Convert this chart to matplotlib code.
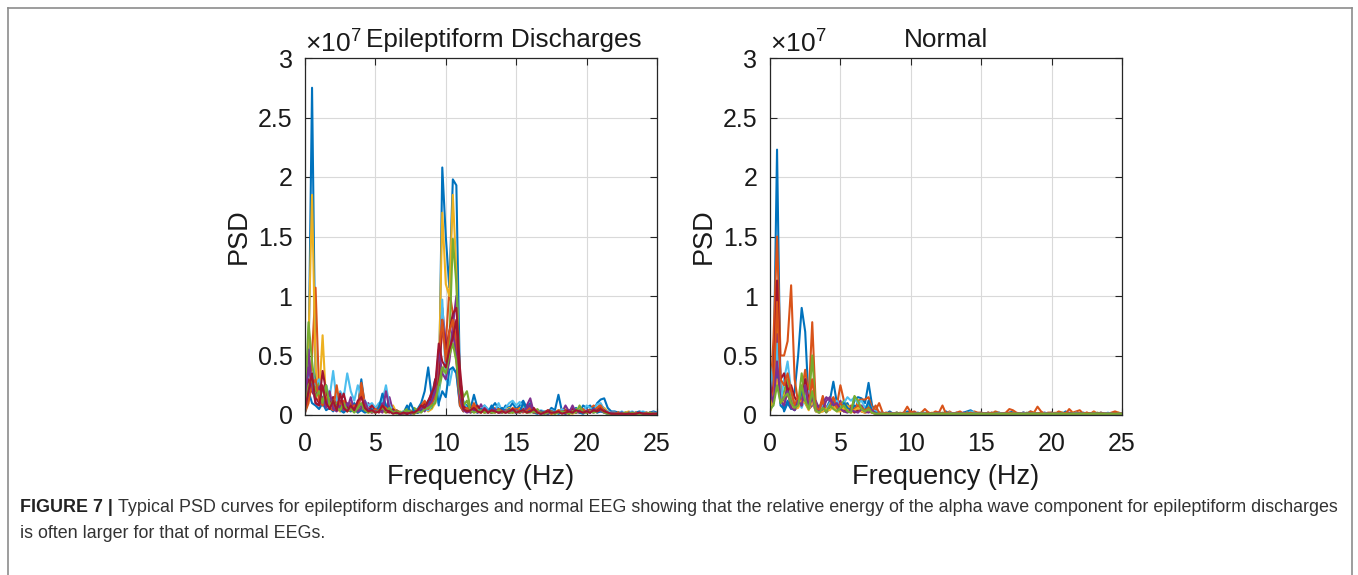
import numpy as np
import matplotlib
matplotlib.use('Agg')
import matplotlib.pyplot as plt
from matplotlib.lines import Line2D

plt.rcParams['font.family'] = ['Liberation Sans', 'DejaVu Sans']
plt.rcParams['mathtext.fontset'] = 'custom'
plt.rcParams['mathtext.rm'] = 'Liberation Sans'

# frequency bins (Hz), 0.25 Hz resolution
freq = np.arange(101) * 0.25

# PSD values, in units of 1e5 (one group of 4 bins per Hz)
ep_blue = "5 40 275 30|20 12 25 8|10 6 12 5|8 4 10 6|30 8 5 3|6 4 15 5|3 2 4 2|2 8 3 2|5 10 20 40|15 30 8 208|150 107 198 193|30 10 8 5|17 6 4 8|4 6 10 5|3 8 6 10|5 8 12 6|10 4 3 2|3 2 6 4|17 3 2 4|3 6 2 8|6 8 4 10|13 14 6 3|3 2 2 1|2 1 2 3|2 1 2 3|2"
ep_orange = "2 10 50 107|20 10 8 15|5 12 3 8|4 10 3 5|27 10 5 3|4 8 6 3|5 3 2 2|2 3 2 4|3 6 10 8|12 20 40 70|60 105 85 60|10 4 6 3|8 4 3 6|3 4 6 3|2 5 3 6|4 6 3 5|8 3 2 3|2 4 3 2|3 5 2 3|4 2 6 4|3 5 8 6|9 5 3 2|2 1 2 1|1 2 1 1|1 2 1 1|1"
ep_yellow = "3 60 185 40|15 67 10 6|8 5 3 6|4 3 5 2|6 3 2 4|3 5 3 2|3 8 2 3|2 1 3 2|2 4 6 3|5 10 30 170|110 100 185 120|15 4 3 5|2 6 3 2|4 2 3 5|2 3 6 2|3 5 8 4|3 2 4 2|3 2 1 3|2 3 5 2|1 3 2 4|3 2 5 3|4 6 3 2|1 2 1 2|3 1 2 1|2 1 1 2|1"
ep_purple = "10 55 20 15|25 8 12 5|15 6 4 12|5 15 3 6|8 3 10 4|3 6 10 4|15 3 2 1|2 1 3 2|4 8 3 10|20 12 40 90|60 50 75 100|20 5 3 8|4 3 9 3|2 5 3 2|3 2 4 3|2 4 3 8|14 2 3 2|1 3 2 2|3 2 8 3|6 2 3 2|4 3 2 5|3 4 2 1|2 1 1 2|1 1 2 1|1 1 1 2|1"
ep_green = "8 78 45 20|28 22 10 15|8 10 5 3|6 4 8 3|5 8 4 3|2 3 5 2|3 2 1 2|3 5 2 6|4 3 8 5|6 15 20 35|45 60 148 110|30 15 20 6|3 5 2 4|3 2 4 2|5 3 2 3|2 4 3 2|3 2 5 2|2 3 2 1|4 2 3 2|2 5 3 2|3 2 4 2|7 3 2 1|1 2 1 1|2 1 1 1|1 2 1 1|1"
ep_lightblue = "5 15 35 25|30 20 25 15|37 12 20 15|35 20 12 25|15 12 8 10|6 10 12 25|8 4 3 2|3 2 1 3|2 3 5 4|8 15 10 97|30 25 40 35|10 12 5 3|6 4 3 8|5 3 4 10|3 6 10 12|8 11 6 4|5 3 2 4|3 2 4 3|2 5 3 2|4 3 5 3|8 6 4 9|10 4 3 2|2 1 3 1|2 3 1 2|3 2 1 2|1"
ep_darkred = "3 30 20 15|10 37 20 8|15 5 10 18|6 4 8 3|20 5 3 8|4 2 5 3|2 5 2 1|2 1 2 3|2 5 10 6|15 30 25 80|55 70 85 90|40 8 4 6|3 8 4 2|3 2 4 3|5 3 2 4|3 2 5 3|4 6 2 3|2 4 3 2|3 2 4 3|5 3 2 4|2 4 3 5|6 4 2 1|1 2 1 1|2 1 1 2|1 1 2 1|1"
ep_blue2 = "2 20 10 8|5 10 4 6|3 8 4 2|5 3 6 2|4 2 3 5|3 6 18 8|4 3 2 1|1 2 10 3|2 3 6 12|8 25 10 20|15 38 40 35|8 3 5 2|3 2 5 3|2 8 3 4|6 2 5 3|2 3 10 5|3 2 1 3|2 1 2 3|1 2 1 3|2 4 2 1|3 2 6 2|3 2 1 2|1 1 2 1|1 2 1 1|2 1 1 1|1"
ep_orange2 = "3 12 25 30|12 8 15 6|4 25 6 12|3 5 8 4|22 6 3 2|5 3 8 6|3 2 4 2|1 3 2 1|4 8 12 5|10 15 50 80|45 70 80 45|8 3 6 2|10 3 2 4|2 3 2 5|3 2 4 2|5 3 2 4|6 2 3 2|2 3 1 2|4 2 3 1|3 2 4 5|2 3 4 6|8 3 2 1|1 2 1 1|1 1 2 1|1 2 1 1|1"
ep_purple2 = "15 40 25 10|8 15 6 20|5 3 8 4|10 4 6 3|6 12 4 2|3 4 2 20|5 2 3 1|2 3 1 2|3 6 4 8|12 20 55 35|30 45 70 50|15 4 2 3|5 2 3 6|3 2 5 2|2 4 2 3|4 2 3 6|8 3 2 1|2 1 3 2|2 3 1 2|8 2 3 2|3 2 5 3|4 2 1 2|1 1 2 1|1 2 1 1|1 1 2 1|1"
ep_green2 = "4 25 30 15|20 10 25 8|12 6 4 10|3 5 2 6|10 4 2 3|2 4 6 3|6 2 3 2|2 4 2 1|3 2 5 6|8 10 25 40|35 50 60 45|20 8 12 4|2 3 4 2|3 2 2 4|2 3 2 2|3 2 4 2|2 3 2 2|1 2 3 1|2 3 2 1|3 2 8 2|2 3 2 3|5 2 1 1|1 1 1 2|1 2 1 1|1 1 2 1|1"
ep_darkred2 = "5 20 35 10|8 25 10 5|12 4 18 6|3 8 4 12|15 6 3 4|2 3 8 4|3 1 2 1|2 1 2 2|4 8 6 12|18 25 60 45|40 55 65 80|25 5 3 4|6 3 2 5|2 4 3 2|3 2 3 5|2 3 4 2|3 5 2 1|2 3 2 2|3 1 2 3|2 4 3 2|3 2 4 3|5 3 2 1|1 1 1 1|1 1 1 2|1 1 1 1|1"

nm_blue = "5 30 223 20|3 10 5 20|50 90 70 10|15 5 8 3|6 12 28 10|5 8 10 3|12 15 14 10|27 8 3 2|2 1 3 1|2 1 1 3|2 1 2 1|1 2 1 1|2 1 3 1|1 2 1 2|3 4 2 1|2 1 1 2|1 2 1 1|2 3 1 1|2 1 3 1|1 2 1 1|2 1 2 1|3 1 1 2|1 2 1 1|1 1 2 1|1 1 1 1|1"
nm_orange = "10 65 150 50|50 62 109 30|10 20 38 15|78 8 5 16|4 10 15 8|25 12 5 8|3 12 13 13|15 6 4 10|2 1 2 1|2 1 2 7|2 3 1 2|5 2 1 3|2 8 1 3|1 2 3 1|2 1 3 2|2 1 2 1|3 2 1 2|5 4 2 1|2 1 3 2|7 3 1 2|2 1 3 2|1 5 2 3|4 1 2 1|3 1 2 1|1 2 3 2|1"
nm_yellow = "5 20 82 25|15 30 20 10|8 18 12 6|20 4 3 5|3 8 6 4|5 3 8 4|6 8 5 3|4 2 1 2|1 1 1 1|1 2 1 1|2 1 1 1|1 1 2 1|1 1 1 2|1 1 1 1|2 1 1 1|1 1 2 1|1 1 1 1|1 2 1 1|1 1 1 2|1 1 1 1|1 2 1 1|1 1 2 1|1 1 1 1|2 1 1 1|1 1 1 2|1"
nm_purple = "30 15 68 20|10 25 12 5|15 10 30 5|8 12 5 10|15 12 8 6|12 4 3 6|5 3 8 4|3 5 2 1|1 1 2 1|1 1 1 1|1 2 1 1|1 1 1 1|2 1 1 1|1 1 1 2|1 1 1 1|1 1 2 1|1 1 1 1|1 1 1 1|2 1 1 1|1 1 2 1|1 1 1 1|1 2 1 1|1 1 1 1|1 1 1 1|1 1 1 1|1"
nm_green = "3 10 50 15|20 30 15 8|10 35 15 8|50 5 3 8|2 6 10 5|8 12 4 3|15 10 6 4|8 3 2 1|1 1 1 1|2 1 1 1|1 1 1 2|1 1 1 1|1 2 1 1|1 1 1 1|1 1 2 1|1 1 1 1|2 1 1 1|1 1 1 1|1 2 1 1|1 1 1 1|1 1 1 2|1 1 1 1|1 1 1 1|1 2 1 1|1 1 1 1|1"
nm_lightblue = "42 20 60 10|30 45 20 8|12 6 15 20|10 6 3 8|5 10 8 12|6 10 15 12|15 10 12 6|10 5 3 2|1 2 1 1|1 1 2 1|1 1 1 1|2 1 1 1|1 1 1 2|1 1 1 1|1 3 2 1|1 1 1 1|1 2 1 1|1 1 1 1|2 1 1 1|1 1 2 1|1 1 1 1|1 1 1 2|1 1 1 1|1 1 1 1|2 1 1 1|1"
nm_darkred = "8 25 113 30|35 20 25 15|10 8 30 12|15 5 3 4|3 5 8 4|6 3 5 4|2 4 3 2|3 2 1 1|1 1 1 1|1 1 1 1|1 1 1 1|1 1 1 1|1 1 1 1|1 1 1 1|1 1 1 1|1 1 1 1|1 1 1 1|1 1 1 1|1 1 1 1|1 1 1 1|1 1 1 1|1 1 1 1|1 1 1 1|1 1 1 1|1 1 1 1|1"
nm_blue2 = "4 15 40 8|5 12 6 4|8 20 10 5|12 3 2 4|3 6 12 5|4 10 6 3|8 6 4 3|12 3 2 1|1 1 1 1|1 1 1 1|1 1 1 1|1 1 1 1|1 1 1 1|1 1 1 1|1 1 1 1|1 1 1 1|1 1 1 1|1 1 1 1|1 1 1 1|1 1 1 1|1 1 1 1|1 1 1 1|1 1 1 1|1 1 1 1|1 1 1 1|1"
nm_orange2 = "6 20 95 30|25 35 20 8|15 10 25 8|30 6 4 12|3 8 14 6|10 6 4 3|5 8 6 4|6 3 8 2|1 2 1 1|1 1 2 1|3 1 1 1|1 2 1 1|1 1 2 1|1 1 1 1|1 2 1 1|1 1 1 2|1 1 1 1|2 1 1 1|1 1 1 1|1 2 1 1|1 1 1 1|2 1 1 1|1 1 2 1|1 1 1 1|1 1 2 1|1"
nm_yellow2 = "3 15 30 12|10 18 8 5|6 12 10 4|12 3 2 3|5 4 8 3|3 6 4 2|4 6 3 2|3 2 1 1|1 1 1 1|1 1 1 1|1 1 1 1|1 1 1 1|1 1 1 1|1 1 1 1|1 1 1 1|1 1 1 1|1 1 1 1|1 1 1 1|1 1 1 1|1 1 1 1|1 1 1 1|1 1 1 1|1 1 1 1|1 1 1 1|1 1 1 1|1"
nm_purple2 = "20 10 45 12|8 20 6 4|12 8 25 6|15 4 3 5|12 15 8 10|5 3 2 4|3 2 5 3|2 4 1 1|1 1 1 1|1 1 1 1|1 1 1 1|1 1 1 1|1 1 1 1|1 1 1 1|1 1 1 1|1 1 1 1|1 1 1 1|1 1 1 1|1 1 1 1|1 1 1 1|1 1 1 1|1 1 1 1|1 1 1 1|1 1 1 1|1 1 1 1|1"
nm_green2 = "5 8 25 10|15 18 10 6|8 25 12 5|20 4 2 6|3 8 5 3|6 8 3 2|16 12 5 3|5 2 1 1|1 1 1 1|1 1 1 1|1 1 1 1|1 1 1 1|1 1 1 1|1 1 1 1|1 1 1 1|1 1 1 1|1 1 1 1|1 1 1 1|1 1 1 1|1 1 1 1|1 1 1 1|1 1 1 1|1 1 1 1|1 1 1 1|1 1 1 1|1"

# MATLAB default colour order
mblue, morange, myellow, mpurple = '#0072BD', '#D95319', '#EDB120', '#7E2F8E'
mgreen, mlightblue, mdarkred = '#77AC30', '#4DBEEE', '#A2142F'

ep_curves = [(ep_blue, mblue), (ep_orange, morange), (ep_yellow, myellow),
             (ep_purple, mpurple), (ep_green, mgreen), (ep_lightblue, mlightblue),
             (ep_darkred, mdarkred), (ep_blue2, mblue), (ep_orange2, morange),
             (ep_purple2, mpurple), (ep_green2, mgreen), (ep_darkred2, mdarkred)]
nm_curves = [(nm_blue, mblue), (nm_orange, morange), (nm_yellow, myellow),
             (nm_purple, mpurple), (nm_green, mgreen), (nm_lightblue, mlightblue),
             (nm_darkred, mdarkred), (nm_blue2, mblue), (nm_orange2, morange),
             (nm_yellow2, myellow), (nm_purple2, mpurple), (nm_green2, mgreen)]

titles = ['Epileptiform Discharges', 'Normal']
title_x = [0.565, 0.5]   # MATLAB nudged the long title right of the exponent
xticks = [0, 5, 10, 15, 20, 25]
yticks = [0, 0.5, 1, 1.5, 2, 2.5, 3]
ytick_labels = ['0', '0.5', '1', '1.5', '2', '2.5', '3']
caption_bold = 'FIGURE 7 |'
caption_1 = ('Typical PSD curves for epileptiform discharges and normal EEG showing that '
             'the relative energy of the alpha wave component for epileptiform discharges')
caption_2 = 'is often larger for that of normal EEGs.'


def parse(s):
    vals = [float(v) for v in s.replace('|', ' ').split()]
    assert len(vals) == len(freq), len(vals)
    return np.array(vals) / 100.0  # -> units of 1e7


W, H = 1358, 575
fig = plt.figure(figsize=(W / 100, H / 100), dpi=100)
txt = '#1a1a1a'

lefts = [305, 770]
for k, curves in enumerate([ep_curves, nm_curves]):
    ax = fig.add_axes([lefts[k] / W, 1 - 415 / H, 352 / W, 357 / H])
    for s, c in curves:
        ax.plot(freq, parse(s), color=c, lw=1.5)
    ax.set_xlim(0, 25)
    ax.set_ylim(0, 3)
    ax.set_xticks(xticks)
    ax.set_yticks(yticks)
    ax.set_yticklabels(ytick_labels)
    ax.tick_params(direction='in', top=True, right=True, length=5, width=0.8,
                   labelsize=18, colors='#262626', labelcolor=txt)
    ax.tick_params(axis='x', pad=12)
    ax.tick_params(axis='y', pad=9)
    ax.grid(True, color='#d9d9d9', lw=0.8)
    ax.set_axisbelow(True)
    for sp in ax.spines.values():
        sp.set_color('#262626')
        sp.set_linewidth(0.9)
    ax.set_xlabel('Frequency (Hz)', fontsize=19.5, labelpad=6, color=txt)
    ax.set_ylabel('PSD', fontsize=19.5, labelpad=4, color=txt)
    ax.text(title_x[k], 1.032, titles[k], transform=ax.transAxes, ha='center',
            va='baseline', fontsize=18.8, color=txt)
    ax.text(0.0, 1.018, r'$\times10^{7}$', transform=ax.transAxes,
            ha='left', va='baseline', fontsize=19, color=txt)

# frame around the figure panel
lc = '#8c8c8c'
fig.add_artist(Line2D([8 / W, 8 / W], [0, 1 - 8 / H], transform=fig.transFigure, color=lc, lw=1.2))
fig.add_artist(Line2D([1352 / W, 1352 / W], [0, 1 - 8 / H], transform=fig.transFigure, color=lc, lw=1.2))
fig.add_artist(Line2D([8 / W, 1352 / W], [1 - 8 / H, 1 - 8 / H], transform=fig.transFigure, color=lc, lw=1.2))

# caption
tb = fig.text(20 / W, 1 - 508 / H, caption_bold, fontsize=12.9, fontweight='bold',
              color='#222222', va='center', ha='left')
fig.canvas.draw()
bb = tb.get_window_extent()
fig.text((bb.x1 + 5) / W, 1 - 508 / H, caption_1, fontsize=12.9, color='#333333',
         va='center', ha='left')
fig.text(20 / W, 1 - 534 / H, caption_2, fontsize=12.9, color='#333333',
         va='center', ha='left')

fig.savefig('out.png', dpi=100)
